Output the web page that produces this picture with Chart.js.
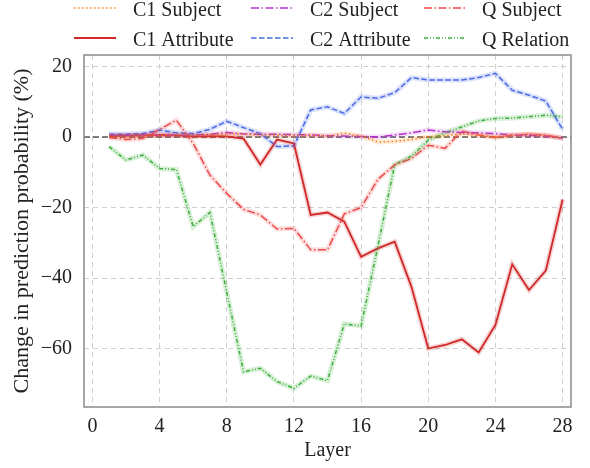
<!DOCTYPE html>
<html>
<head>
<meta charset="utf-8">
<script src="https://cdn.jsdelivr.net/npm/chart.js@4.4.1/dist/chart.umd.min.js"></script>
<style>
  html, body { margin: 0; padding: 0; background: #fff; }
  #wrap { width: 590px; height: 468px; }
</style>
</head>
<body>
<div id="wrap"><canvas id="layerChart" width="590" height="468"></canvas></div>
<script>
// layers 1..28
const layers = [1, 2, 3, 4, 5, 6, 7, 8, 9, 10, 11, 12, 13, 14, 15, 16, 17, 18, 19, 20, 21, 22, 23, 24, 25, 26, 27, 28];
const xTicks = [0, 4, 8, 12, 16, 20, 24, 28];
const yTicks = [-60, -40, -20, 0, 20];

const c1Subject = [0.3, 0.2, 0.4, 0.5, 0.6, 0.5, 0.6, 0.9, 0.8, 0.6, 0.5, 0.4, 0.5, 0.3, 1.1, 0.3, -1.4, -1.2, -0.7, 0.1, 0.4, 0.9, 0.5, 0.1, 0.5, 0.9, 0.5, -0.3];
const c2Subject = [0.5, 0.5, 0.6, 0.6, 0.5, 0.6, 0.8, 1.3, 0.9, 0.8, 0.8, 0.7, 0.6, 0.4, 0.3, 0.2, 0.0, 0.6, 1.2, 2.0, 1.5, 1.3, 1.2, 1.0, 0.6, 0.5, 0.3, -0.3];
const qSubject = [-0.1, -0.7, -0.4, 2.2, 4.8, -1.8, -10.8, -16.0, -20.5, -22.1, -26.1, -25.9, -32.0, -32.0, -21.8, -20.0, -12.0, -7.9, -6.1, -2.3, -3.2, 1.7, 0.6, -0.1, 0.5, 0.8, 0.5, -0.3];
const c1Attribute = [0.3, 0.4, 0.5, 0.6, 0.5, 0.2, 0.3, 0.2, -0.4, -7.8, -0.7, -1.8, -22.1, -21.4, -24.0, -34.0, -31.6, -29.7, -42.5, -60.0, -59.0, -57.4, -61.1, -53.3, -36.1, -43.4, -37.9, -17.7];
const c2Attribute = [0.85, 0.8, 1.0, 2.0, 1.2, 1.0, 2.2, 4.5, 2.7, 1.0, -2.7, -2.5, 7.7, 8.6, 6.7, 11.4, 11.0, 12.6, 16.9, 16.2, 16.2, 16.2, 16.9, 18.1, 13.3, 11.9, 10.2, 2.2];
const qRelation = [-2.7, -6.5, -5.1, -8.9, -9.2, -25.4, -21.4, -44.0, -66.6, -65.6, -69.4, -71.3, -67.8, -69.1, -53.0, -53.6, -31.0, -7.8, -5.4, -0.85, 1.2, 2.9, 4.6, 5.3, 5.4, 5.8, 6.2, 5.8];

const serif = '"Liberation Serif", "DejaVu Serif", serif';

const series = [
    { label: 'C1 Subject', data: c1Subject, color: '#ff7f0e', halo: 'rgba(255,127,14,0.15)', dash: [1.5, 2.5], width: 1.5 },
    { label: 'C2 Subject', data: c2Subject, color: '#b530d0', halo: 'rgba(181,48,208,0.15)', dash: [8, 2.5, 1.5, 2.5], width: 1.5 },
    { label: 'Q Subject', data: qSubject, color: '#f04848', halo: 'rgba(240,72,72,0.18)', dash: [8, 2.5, 1.5, 2.5], width: 1.5 },
    { label: 'C1 Attribute', data: c1Attribute, color: '#d02828', halo: 'rgba(208,40,40,0.2)', dash: [], width: 1.8 },
    { label: 'C2 Attribute', data: c2Attribute, color: '#4a6ae8', halo: 'rgba(74,106,232,0.2)', dash: [5.5, 2.5], width: 1.5 },
    { label: 'Q Relation', data: qRelation, color: '#3cb03c', halo: 'rgba(60,176,60,0.2)', dash: [4, 2, 1, 2, 1, 2], width: 1.5 }
];

const datasets = [];
series.forEach(s => {
    // light band behind each line
    datasets.push({
        label: s.label + ' band',
        data: layers.map((l, i) => ({ x: l, y: s.data[i] })),
        borderColor: s.halo,
        borderWidth: 5,
        pointRadius: 0,
        tension: 0
    });
});
series.forEach(s => {
    datasets.push({
        label: s.label,
        data: layers.map((l, i) => ({ x: l, y: s.data[i] })),
        borderColor: s.color,
        borderWidth: s.width,
        borderDash: s.dash,
        pointRadius: 0,
        tension: 0
    });
});

// frame, zero line and 3-column legend
const extras = {
    id: 'extras',
    beforeDatasetsDraw(chart) {
        const { ctx, chartArea: a, scales: { y } } = chart;
        const y0 = y.getPixelForValue(0);
        ctx.save();
        ctx.strokeStyle = '#5a5a5a';
        ctx.lineWidth = 1.5;
        ctx.setLineDash([6, 3]);
        ctx.beginPath();
        ctx.moveTo(a.left, y0);
        ctx.lineTo(a.right, y0);
        ctx.stroke();
        ctx.restore();
    },
    afterDraw(chart) {
        const { ctx, chartArea: a } = chart;
        ctx.save();
        ctx.strokeStyle = '#8a8a8a';
        ctx.lineWidth = 1.5;
        ctx.setLineDash([]);
        ctx.strokeRect(a.left, a.top, a.right - a.left, a.bottom - a.top);

        const colLine = [74, 251, 424];
        const colText = [133, 310, 482];
        const rowY = [8, 38];
        ctx.font = '20px ' + serif;
        ctx.textBaseline = 'alphabetic';
        ctx.fillStyle = '#222';
        series.forEach((s, i) => {
            const c = i % 3, r = Math.floor(i / 3);
            ctx.strokeStyle = s.color;
            ctx.lineWidth = s.width;
            ctx.setLineDash(s.dash);
            ctx.beginPath();
            ctx.moveTo(colLine[c], rowY[r]);
            ctx.lineTo(colLine[c] + 42, rowY[r]);
            ctx.stroke();
            ctx.fillText(s.label, colText[c], rowY[r] + 8);
        });
        ctx.restore();
    }
};

new Chart(document.getElementById('layerChart').getContext('2d'), {
    type: 'line',
    data: { datasets: datasets },
    options: {
        responsive: false,
        animation: false,
        layout: { padding: { top: 55, right: 19, left: 0, bottom: 0 } },
        plugins: {
            legend: { display: false },
            tooltip: { enabled: false }
        },
        scales: {
            x: {
                type: 'linear',
                min: -0.5,
                max: 28.5,
                afterBuildTicks: s => { s.ticks = xTicks.map(v => ({ value: v })); },
                afterFit: s => { s.height = 61; },
                grid: { color: '#cfcfcf', lineWidth: 1, drawTicks: false },
                border: { display: false, dash: [5, 4] },
                ticks: { color: '#222', padding: 8, font: { family: serif, size: 20 }, maxRotation: 0 },
                title: { display: true, text: 'Layer', color: '#222', font: { family: serif, size: 20 }, padding: { top: 0, bottom: 5 } }
            },
            y: {
                min: -76.6,
                max: 23.3,
                afterBuildTicks: s => { s.ticks = yTicks.map(v => ({ value: v })); },
                afterFit: s => { s.width = 84; },
                grid: { color: '#cfcfcf', lineWidth: 1, drawTicks: false },
                border: { display: false, dash: [5, 4] },
                ticks: {
                    color: '#222', padding: 12, font: { family: serif, size: 20 },
                    callback: v => (v < 0 ? '\u2212' + Math.abs(v) : String(v))
                },
                title: { display: true, text: 'Change in prediction probability (%)', color: '#222', font: { family: serif, size: 22 }, padding: { top: 9, bottom: 0 } }
            }
        }
    },
    plugins: [extras]
});
</script>
</body>
</html>
